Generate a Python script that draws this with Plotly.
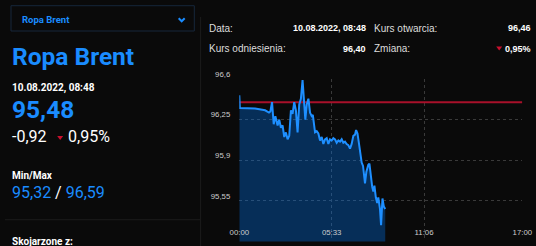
import plotly.graph_objects as go

W, H = 536, 246

# ---- data (minutes since 00:00, price) ----
minutes = [0, 2, 57, 93, 107, 112, 118, 124, 130, 134, 138, 144, 150, 156, 162, 168, 174, 180,
           186, 192, 198, 204, 210, 216, 222, 228, 235, 238, 243, 249, 255, 261, 265, 273, 279,
           285, 291, 297, 303, 309, 315, 321, 327, 333, 339, 345, 351, 357, 363, 369, 375, 381,
           387, 393, 399, 405, 411, 417, 421, 426, 431, 437, 441, 446, 449, 453, 458, 465, 469,
           474, 479, 483, 487, 492, 497, 501, 507, 511, 516, 521, 526]
prices = [96.46, 96.35, 96.345, 96.33, 96.31, 96.32, 96.40, 96.21, 96.28, 96.22, 96.20, 96.25,
          96.18, 96.20, 96.10, 96.14, 96.08, 96.11, 96.33, 96.30, 96.40, 96.33, 96.14, 96.38,
          96.43, 96.59, 96.36, 96.25, 96.38, 96.43, 96.31, 96.28, 96.29, 96.14, 96.15, 96.13,
          96.07, 96.10, 96.04, 96.08, 96.09, 96.04, 96.08, 96.07, 96.09, 96.08, 96.05, 96.07,
          96.06, 96.08, 96.05, 96.06, 96.04, 96.03, 96.00, 96.04, 96.11, 96.12, 96.16, 96.13,
          96.05, 95.93, 95.88, 95.85, 95.78, 95.70, 95.80, 95.86, 95.87, 95.75, 95.67, 95.63,
          95.68, 95.58, 95.53, 95.58, 95.48, 95.34, 95.57, 95.50, 95.48]
reference_price = 96.40

x_tickvals = [0, 333, 666, 1020]
x_ticktext = ["00:00", "05:33", "11:06", "17:00"]
y_tickvals = [95.55, 95.9, 96.25, 96.6]
y_ticktext = ["95,55", "95,9", "96,25", "96,6"]

BG = "#0a0a0a"
BLUE = "#1a8cff"
RED = "#c8102e"


def px(x):
    return x / W


def py(y):
    return 1 - y / H


fig = go.Figure()
# area fill
fig.add_trace(go.Scatter(
    x=minutes, y=prices, mode="lines",
    line=dict(color="rgba(0,0,0,0)", width=0),
    fill="tozeroy", fillcolor="rgba(0,125,255,0.32)",
    hoverinfo="skip", showlegend=False,
))
# reference line
fig.add_trace(go.Scatter(
    x=[0, 1020], y=[reference_price, reference_price], mode="lines",
    line=dict(color="#a8102a", width=2), hoverinfo="skip", showlegend=False,
))
# price line on top
fig.add_trace(go.Scatter(
    x=minutes, y=prices, mode="lines",
    line=dict(color="#1e8fff", width=2),
    hoverinfo="skip", showlegend=False,
))

shapes = []
# dropdown box
shapes.append(dict(type="rect", xref="paper", yref="paper",
                   x0=px(11), x1=px(194.3), y0=py(31), y1=py(5.7),
                   line=dict(color="#16273b", width=1), fillcolor=BG, layer="below"))
# chevron
shapes.append(dict(type="path", xref="paper", yref="paper",
                   path=f"M {px(178.7)} {py(18.3)} L {px(181.7)} {py(21.3)} L {px(184.7)} {py(18.3)}",
                   line=dict(color=BLUE, width=2)))
# separators
shapes.append(dict(type="line", xref="paper", yref="paper",
                   x0=px(5), x1=px(200), y0=py(219.7), y1=py(219.7),
                   line=dict(color="#1c1c1c", width=1)))
shapes.append(dict(type="line", xref="paper", yref="paper",
                   x0=px(200.6), x1=px(200.6), y0=py(17), y1=py(246),
                   line=dict(color="#1c1c1c", width=1)))
# red triangles
shapes.append(dict(type="path", xref="paper", yref="paper",
                   path=f"M {px(57.2)} {py(136.0)} L {px(63.2)} {py(136.0)} L {px(60.2)} {py(140.0)} Z",
                   line=dict(width=0), fillcolor=RED))
shapes.append(dict(type="path", xref="paper", yref="paper",
                   path=f"M {px(496.2)} {py(46.5)} L {px(502.2)} {py(46.5)} L {px(499.2)} {py(50.5)} Z",
                   line=dict(width=0), fillcolor=RED))

ann = []


def text(x, y, t, size, color="#ffffff", family="Roboto", anchor="left"):
    ann.append(dict(x=px(x), y=py(y), xref="paper", yref="paper", text=t,
                    showarrow=False, xanchor=anchor, yanchor="middle",
                    font=dict(size=size, color=color, family=family),
                    borderpad=0))


text(20.5, 19.5, "<b>Ropa Brent</b>", 9.5, BLUE)
text(10.5, 56, "<b>Ropa Brent</b>", 24.5, BLUE)
text(10.5, 87.5, "<b>10.08.2022, 08:48</b>", 10)
text(10.5, 109, "<b>95,48</b>", 24.5, BLUE)
text(10.5, 136.5, "-0,92", 16)
text(66.5, 136.5, "0,95%", 16)
text(10.5, 175, "<b>Min/Max</b>", 10)
text(10.5, 192.5, f"<span style='color:{BLUE}'>95,32</span> / <span style='color:{BLUE}'>96,59</span>", 16)
text(10.5, 241, "<b>Skojarzone z:</b>", 10)

AR = "Liberation Sans, Arial"
text(207.5, 28.5, "Data:", 10, "#dddddd", AR)
text(366.5, 28.5, "<b>10.08.2022, 08:48</b>", 9, "#ffffff", AR, "right")
text(372.5, 28.5, "Kurs otwarcia:", 10, "#dddddd", AR)
text(531.5, 28.5, "<b>96,46</b>", 9, "#ffffff", AR, "right")
text(207.5, 48.5, "Kurs odniesienia:", 10, "#dddddd", AR)
text(366.5, 48.5, "<b>96,40</b>", 9, "#ffffff", AR, "right")
text(372.5, 48.5, "Zmiana:", 10, "#dddddd", AR)
text(531.5, 48.5, "<b>0,95%</b>", 9, "#ffffff", AR, "right")

fig.update_layout(
    width=W, height=H,
    margin=dict(l=0, r=0, t=0, b=0, autoexpand=False),
    paper_bgcolor=BG, plot_bgcolor=BG,
    shapes=shapes, annotations=ann,
    xaxis=dict(
        domain=[239.3 / W, 522.3 / W], range=[0, 1020],
        tickvals=x_tickvals, ticktext=x_ticktext,
        showgrid=True, gridcolor="#3a3a3a", griddash="dot", gridwidth=1,
        zeroline=False, showline=False, ticks="",
        ticklabelposition="inside", ticklabeloverflow="allow",
        ticklabelstandoff=2,
        tickfont=dict(size=7.8, color="#cccccc", family=AR),
        automargin=False, fixedrange=True,
    ),
    yaxis=dict(
        domain=[1 - 241.4 / H, 1 - 79 / H], range=[95.2, 96.6],
        tickvals=y_tickvals, ticktext=y_ticktext,
        showgrid=True, gridcolor="#3a3a3a", griddash="dot", gridwidth=1,
        zeroline=False, showline=False, ticks="",
        ticklabelstandoff=8, ticklabelshift=-5,
        tickfont=dict(size=7.8, color="#cccccc", family=AR),
        automargin=False, fixedrange=True,
    ),
)

fig.write_html("out.html", config={"displayModeBar": False})
